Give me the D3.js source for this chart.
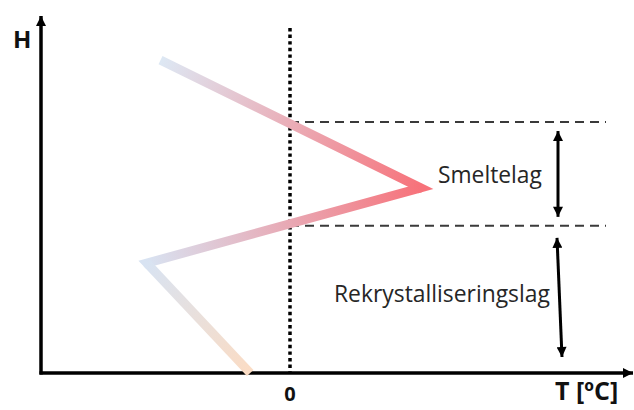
<!DOCTYPE html>
<html>
<head>
<meta charset="utf-8">
<script src="https://cdn.jsdelivr.net/npm/d3@7"></script>
<style>
  body { margin: 0; background: #fff; }
  text { font-family: "Open Sans", "Noto Sans", sans-serif; }
</style>
</head>
<body>
<svg width="634" height="410"></svg>
<script>
// temperature profile (T relative to 0 degC, H in arbitrary height units)
var profileT = [-5.2, 5.25, -5.75, -1.6];
var profileH = [87.4, 51.7, 30.7, 0];
// colours along the profile, one per point
var profileColors = ["#dde8f4", "#f7727a", "#d8e3f2", "#fbdcc4"];

// layer boundaries (top / bottom of melting layer)
var layerH = [70.1, 41.1];
var layerNames = ["Smeltelag", "Rekrystalliseringslag"];
var xTickLabels = ["0"];

var svg = d3.select('svg');
var svgWidth = +svg.attr('width');
var svgHeight = +svg.attr('height');

var x = d3.scaleLinear().domain([-10, 10]).range([41, 539]);
var y = d3.scaleLinear().domain([0, 100]).range([373, 15]);

var defs = svg.append('defs');

// arrow markers
defs.append('marker')
    .attr('id', 'axisHead')
    .attr('viewBox', '0 0 10 10')
    .attr('refX', 10).attr('refY', 5)
    .attr('markerWidth', 10).attr('markerHeight', 10)
    .attr('markerUnits', 'userSpaceOnUse')
    .attr('orient', 'auto')
  .append('path').attr('d', 'M0,0L10,5L0,10Z').attr('fill', '#000');

defs.append('marker')
    .attr('id', 'dblHead')
    .attr('viewBox', '0 0 10 10')
    .attr('refX', 10).attr('refY', 5)
    .attr('markerWidth', 11).attr('markerHeight', 10)
    .attr('markerUnits', 'userSpaceOnUse')
    .attr('orient', 'auto-start-reverse')
  .append('path').attr('d', 'M0,0L10,5L0,10Z').attr('fill', '#000');

// axes
var x0 = x(-10), y0 = y(0);
svg.append('line')
    .attr('x1', x0).attr('y1', y0 + 1.5)
    .attr('x2', x0).attr('y2', 16)
    .attr('stroke', '#000').attr('stroke-width', 3.5)
    .attr('marker-end', 'url(#axisHead)');
svg.append('line')
    .attr('x1', x0 - 1.5).attr('y1', y0)
    .attr('x2', 633).attr('y2', y0)
    .attr('stroke', '#000').attr('stroke-width', 3.5)
    .attr('marker-end', 'url(#axisHead)');

// dotted zero line
svg.append('line')
    .attr('x1', x(0)).attr('y1', 28)
    .attr('x2', x(0)).attr('y2', y0)
    .attr('stroke', '#000').attr('stroke-width', 3.5)
    .attr('stroke-dasharray', '3.4,3.2');

// dashed layer boundaries
svg.selectAll('.bound')
    .data(layerH)
    .enter()
    .append('line')
    .attr('class', 'bound')
    .attr('x1', x(0)).attr('x2', 606)
    .attr('y1', function(d) { return y(d); })
    .attr('y2', function(d) { return y(d); })
    .attr('stroke', '#3a3a3a').attr('stroke-width', 2)
    .attr('stroke-dasharray', '9,6');

// temperature profile, each segment with its own gradient
var pts = profileT.map(function(t, i) { return [x(t), y(profileH[i])]; });
var line = d3.line();
for (let i = 0; i < pts.length - 1; i++) {
  var a = pts[i], b = pts[i + 1];
  var g = defs.append('linearGradient')
      .attr('id', 'seg' + i)
      .attr('gradientUnits', 'userSpaceOnUse')
      .attr('x1', a[0]).attr('y1', a[1])
      .attr('x2', b[0]).attr('y2', b[1]);
  g.append('stop').attr('offset', 0).attr('stop-color', profileColors[i]);
  g.append('stop').attr('offset', 1).attr('stop-color', profileColors[i + 1]);
  var segPts = [a, b];
  // tuck a short piece of the next segment in so the corner joins
  if (pts[i + 2]) {
    var c = pts[i + 2];
    var len = Math.hypot(c[0] - b[0], c[1] - b[1]);
    segPts.push([b[0] + (c[0] - b[0]) * 4 / len, b[1] + (c[1] - b[1]) * 4 / len]);
  }
  svg.append('path')
      .attr('d', line(segPts))
      .attr('fill', 'none')
      .attr('stroke', 'url(#seg' + i + ')')
      .attr('stroke-width', 9)
      .attr('stroke-linejoin', 'miter')
      .attr('stroke-miterlimit', 10);
}

// double arrows for the layers
var arrows = [
  {x1: 558, y1: y(layerH[0]) + 9, x2: 558, y2: y(layerH[1]) - 9},
  {x1: 557, y1: y(layerH[1]) + 12, x2: 562, y2: y(0) - 16}
];
svg.selectAll('.dbl')
    .data(arrows)
    .enter()
    .append('line')
    .attr('class', 'dbl')
    .attr('x1', function(d) { return d.x1; })
    .attr('y1', function(d) { return d.y1; })
    .attr('x2', function(d) { return d.x2; })
    .attr('y2', function(d) { return d.y2; })
    .attr('stroke', '#000').attr('stroke-width', 3)
    .attr('marker-start', 'url(#dblHead)')
    .attr('marker-end', 'url(#dblHead)');

// layer labels
var labelPos = [
  {x: 438, y: 183, w: 104},
  {x: 334, y: 302, w: 216}
];
svg.selectAll('.lbl')
    .data(layerNames)
    .enter()
    .append('text')
    .attr('class', 'lbl')
    .attr('x', function(d, i) { return labelPos[i].x; })
    .attr('y', function(d, i) { return labelPos[i].y; })
    .attr('font-size', 20)
    .attr('fill', '#262626')
    .text(function(d) { return d; })
    .each(function(d, i) {
      var w = this.getComputedTextLength();
      d3.select(this).attr('font-size', 20 * labelPos[i].w / w);
    });

// axis labels
svg.append('text')
    .attr('x', 13).attr('y', 48)
    .attr('font-size', 24).attr('font-weight', 'bold')
    .attr('fill', '#111')
    .text('H');
svg.selectAll('.tick')
    .data(xTickLabels)
    .enter()
    .append('text')
    .attr('class', 'tick')
    .attr('x', function(d) { return x(+d); })
    .attr('y', 401)
    .attr('text-anchor', 'middle')
    .attr('font-size', 20).attr('font-weight', 'bold')
    .attr('fill', '#111')
    .text(function(d) { return d; });
svg.append('text')
    .attr('x', 555).attr('y', 400)
    .attr('font-size', 25).attr('font-weight', 'bold')
    .attr('fill', '#111')
    .text('T [ºC]');
</script>
</body>
</html>
